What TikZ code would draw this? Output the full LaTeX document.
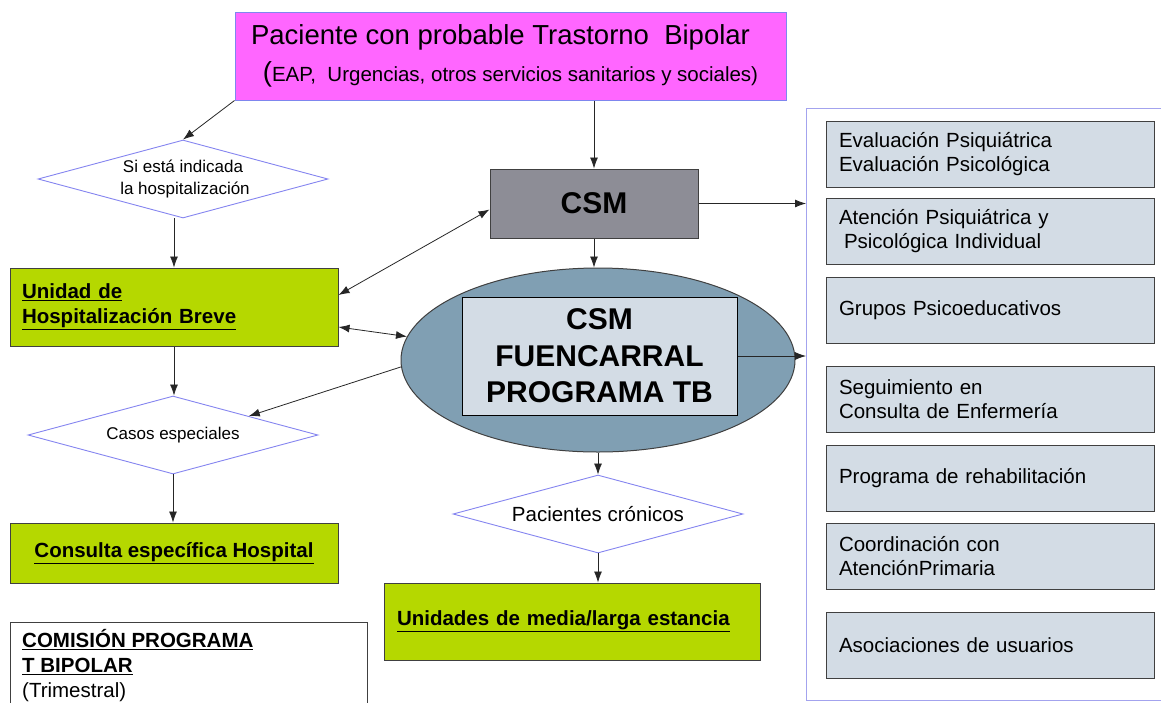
\documentclass[tikz,border=0pt]{standalone}
\usepackage{fontspec}
\setmainfont{Liberation Sans}
\usetikzlibrary{shapes.geometric,arrows.meta,calc}
\definecolor{pinkfill}{HTML}{FF66FF}
\definecolor{pinkedge}{HTML}{7F86EE}
\definecolor{limefill}{HTML}{B5D800}
\definecolor{csmgray}{HTML}{8D8D96}
\definecolor{ellfill}{HTML}{809FB3}
\definecolor{lightbox}{HTML}{D3DCE5}
\definecolor{diaedge}{HTML}{8585F0}
\definecolor{contedge}{HTML}{A3A3EE}
\definecolor{edgedark}{HTML}{404040}
\begin{document}
\begin{tikzpicture}[x=1pt,y=-1pt,
  dia/.style={shape=diamond,draw=diaedge,fill=white,line width=0.9pt,inner sep=0pt,
    aspect=3.72,minimum width=290pt,minimum height=78pt,align=center},
  limebox/.style={draw=edgedark,fill=limefill,line width=1pt,inner sep=0pt,
    font=\fontsize{20.5}{25}\selectfont\bfseries},
  sidebox/.style={draw=edgedark,fill=lightbox,line width=1pt,minimum width=328pt,
    minimum height=66pt,inner sep=0pt,text width=302pt,align=left,
    font=\fontsize{20.5}{24}\selectfont},
  arr/.style={draw=black!85,line width=0.8pt,-{Latex[length=11pt,width=8pt]}},
  darr/.style={draw=black!85,line width=0.8pt,{Latex[length=11pt,width=8pt]}-{Latex[length=11pt,width=8pt]}}
]
\useasboundingbox (0,0) rectangle (1161,702);

% top box
\node[draw=pinkedge,fill=pinkfill,line width=1pt,minimum width=551pt,minimum height=88pt,
  inner sep=0pt,align=center,font=\fontsize{20.5}{37}\selectfont] (pac) at (510.5,56)
  {{\fontsize{27.5}{37}\selectfont Paciente con probable Trastorno\ \ Bipolar}\hspace*{20pt}\\
   {\fontsize{27.5}{37}\selectfont(}EAP,\ \ Urgencias, otros servicios sanitarios y sociales)};

% diamonds
\node[dia,font=\fontsize{17}{22}\selectfont] (d1) at (183,179)
  {Si está indicada\\\hspace*{4pt}la hospitalización};
\node[dia,font=\fontsize{17}{22}\selectfont] (d3) at (173,435) {Casos especiales};
\node[dia,font=\fontsize{20.5}{24}\selectfont] (d4) at (598,514) {Pacientes crónicos};

% left boxes
\node[limebox,minimum width=328pt,minimum height=78pt,text width=304pt,align=left] (uhb) at (174,307)
  {\underline{Unidad de}\\\underline{Hospitalización Breve}};
\node[limebox,minimum width=328pt,minimum height=60pt,align=center] (cons) at (174,553)
  {\underline{Consulta específica Hospital}};
\node[limebox,minimum width=376pt,minimum height=77pt,text width=350pt,align=left] (und) at (572,621.5)
  {\underline{Unidades de media/larga estancia}};

% CSM
\node[draw=edgedark,fill=csmgray,line width=1pt,minimum width=208pt,minimum height=69pt,
  inner sep=0pt,font=\fontsize{30}{36}\selectfont\bfseries] (csm) at (594,203.5) {CSM};

% ellipse
\node[shape=ellipse,draw=edgedark,fill=ellfill,line width=1pt,minimum width=394pt,
  minimum height=184pt,inner sep=0pt] (ell) at (598,360) {};
\node[draw=black,fill=lightbox,line width=1pt,minimum width=275pt,minimum height=118pt,
  inner sep=0pt,align=center,font=\fontsize{30}{36.5}\selectfont\bfseries] (fb) at (599.5,356)
  {CSM\\FUENCARRAL\\PROGRAMA TB};

% commission
\node[draw=edgedark,line width=0.8pt,minimum width=357pt,minimum height=110pt,anchor=north west,
  inner sep=0pt] (com) at (10,622) {};
\node[anchor=north west,align=left,inner sep=0pt,font=\fontsize{20.5}{25}\selectfont] (comtxt)
  at (22,629) {\textbf{\underline{COMISIÓN PROGRAMA}}\\\textbf{\underline{T BIPOLAR}}\\(Trimestral)};

% right container
\node[draw=contedge,line width=1pt,minimum width=380pt,minimum height=592pt,anchor=north west,
  inner sep=0pt] (cont) at (806,108) {};
\node[sidebox] (r1) at (990,154) {Evaluación Psiquiátrica\\Evaluación Psicológica};
\node[sidebox] (r2) at (990,231) {Atención Psiquiátrica y\\\hspace*{5pt}Psicológica Individual};
\node[sidebox] (r3) at (990,310) {Grupos Psicoeducativos};
\node[sidebox] (r4) at (990,399) {Seguimiento en\\Consulta de Enfermería};
\node[sidebox] (r5) at (990,478) {Programa de rehabilitación};
\node[sidebox] (r6) at (990,556.5) {Coordinación con\\AtenciónPrimaria};
\node[sidebox] (r7) at (990,645.5) {Asociaciones de usuarios};

% connectors
\draw[arr] (pac.south west) -- (d1.north);
\draw[arr] (uhb.north |- d1.south) -- (uhb.north);
\draw[arr] (csm.north |- pac.south) -- (csm.north);
\draw[arr] (csm.south) -- (csm.south |- ell.north);
\draw[arr] (csm.east) -- (csm.east -| cont.west);
\draw[darr] ([yshift=12pt]uhb.east) -- ([yshift=-6pt]csm.west);
\draw[darr] ([yshift=-20pt]uhb.east) -- (ell.173);
\draw[arr] (ell.182) -- (d3.14);
\draw[arr] (uhb.south) -- (uhb.south |- d3.north);
\draw[arr] (d3.south) -- (d3.south |- cons.north);
\draw[arr] (ell.south) -- (d4.north);
\draw[arr] (d4.south) -- (d4.south |- und.north);
\draw[arr] (fb.east) -- (fb.east -| cont.west);
\end{tikzpicture}
\end{document}
